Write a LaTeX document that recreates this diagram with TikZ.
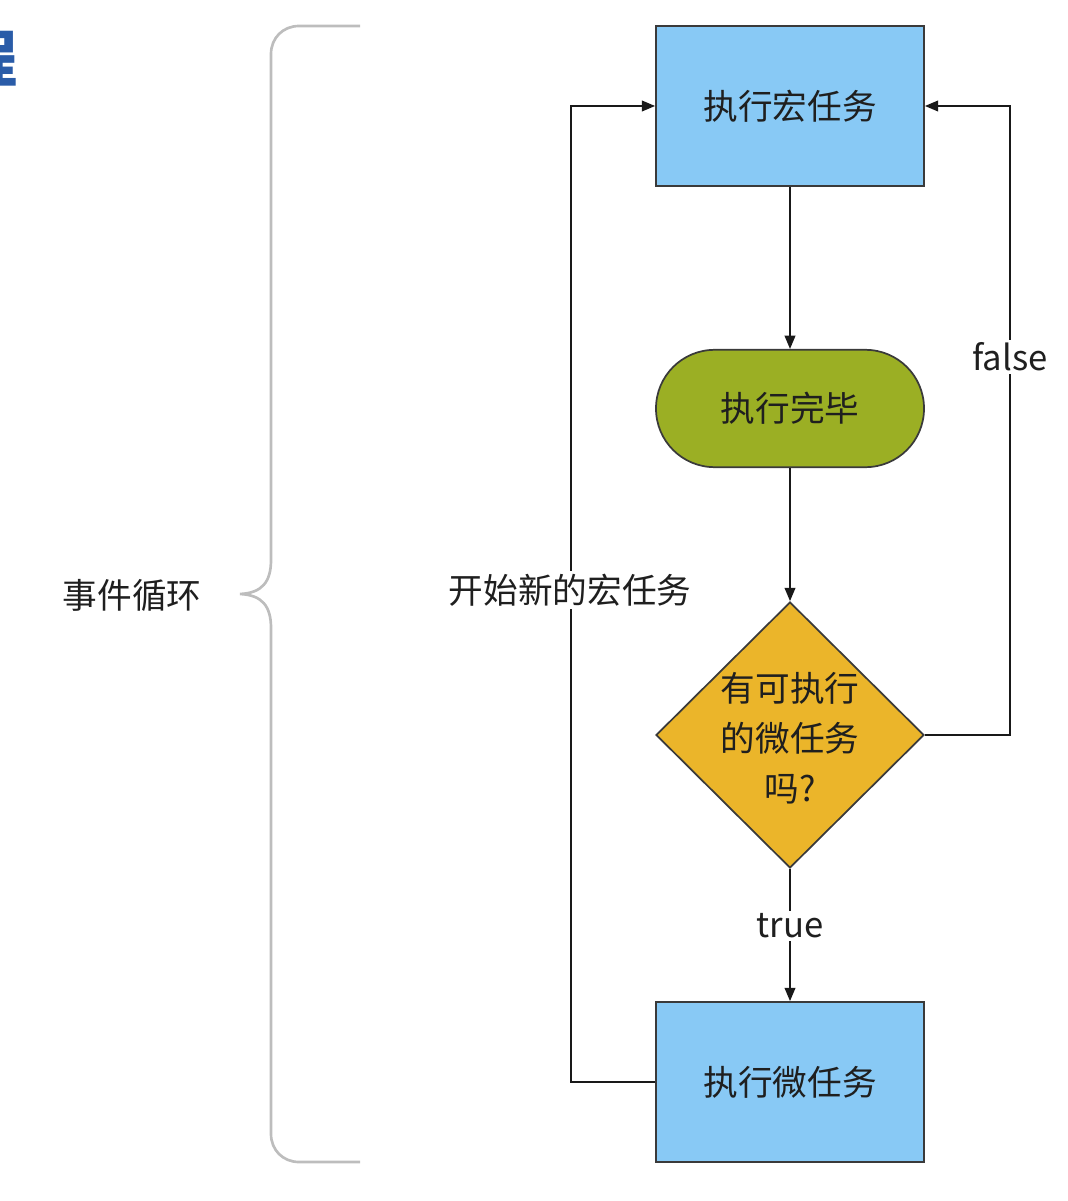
\documentclass[tikz,border=0pt]{standalone}
\usepackage{fontspec}
\setmainfont{Noto Sans CJK SC}
\usetikzlibrary{shapes.geometric,arrows.meta}
\definecolor{boxblue}{HTML}{88C9F5}
\definecolor{boxgreen}{HTML}{9BAF24}
\definecolor{boxyellow}{HTML}{EBB52A}
\definecolor{edgegray}{HTML}{3A3A3A}
\definecolor{bracegray}{HTML}{BDBDBD}
\definecolor{headblue}{HTML}{2A5CA8}
\begin{document}
\begin{tikzpicture}[x=0.75pt,y=-0.75pt,
  txt/.style={font=\fontsize{26}{37.5}\selectfont, text=black!88},
  taskbox/.style={draw=edgegray, line width=1.3pt, fill=boxblue, minimum width=201pt, minimum height=120pt, inner sep=0pt, txt},
  donebox/.style={draw=edgegray, line width=1.3pt, fill=boxgreen, minimum width=201pt, minimum height=88pt, rounded corners=43.9pt, inner sep=0pt, txt},
  decide/.style={diamond, draw=edgegray, line width=1.3pt, fill=boxyellow, minimum width=201pt, minimum height=199.5pt, inner sep=0pt},
  conn/.style={draw=black!90, line width=1.4pt, -{Triangle[length=10pt,width=8pt]}},
  lbl/.style={txt, fill=white, inner sep=2pt},
  bracestyle/.style={draw=bracegray, line width=2pt}
]
\useasboundingbox (0,0) rectangle (1067,1201);

% cut-off heading character
\node[anchor=east, inner sep=0pt, text=headblue, font=\fontsize{46}{46}\selectfont\bfseries] (head) at (18,58) {程};

% nodes
\node[taskbox] (macro) at (790,106) {执行宏任务};
\node[donebox] (done) at (790,408.5) {执行完毕};
\node[decide] (dec) at (790,735) {};
\node[txt, align=center, inner sep=0pt] (dectxt) at (790,738) {有可执行\\的微任务\\吗?};
\node[taskbox] (micro) at (790,1082) {执行微任务};

% turning points
\coordinate (fr) at (1010,735);
\coordinate (frt) at (1010,106);
\coordinate (ml) at (571,1082);
\coordinate (mlt) at (571,106);

% connectors
\draw[conn] (macro.south) -- (done.north);
\draw[conn] (done.south) -- (dec.north);
\draw[conn] (dec.south) -- (micro.north);
\draw[conn] (dec.east) -- (fr) -- (frt) -- (macro.east);
\draw[conn] (micro.west) -- (ml) -- (mlt) -- (macro.west);

% labels
\node[lbl] (ltrue) at (790,926) {true};
\node[lbl] (lfalse) at (1010,357) {false};
\node[lbl] (lnew) at (570,590) {开始新的宏任务};

% brace
\draw[bracestyle] (360,26) -- (299,26) .. controls (283,26) and (271,38) .. (271,54)
  -- (271,560) .. controls (271,582) and (262,593) .. (240,594)
  .. controls (262,595) and (271,606) .. (271,628)
  -- (271,1134) .. controls (271,1150) and (283,1162) .. (299,1162) -- (360,1162);
\node[txt] (loop) at (132,595) {事件循环};
\end{tikzpicture}
\end{document}
